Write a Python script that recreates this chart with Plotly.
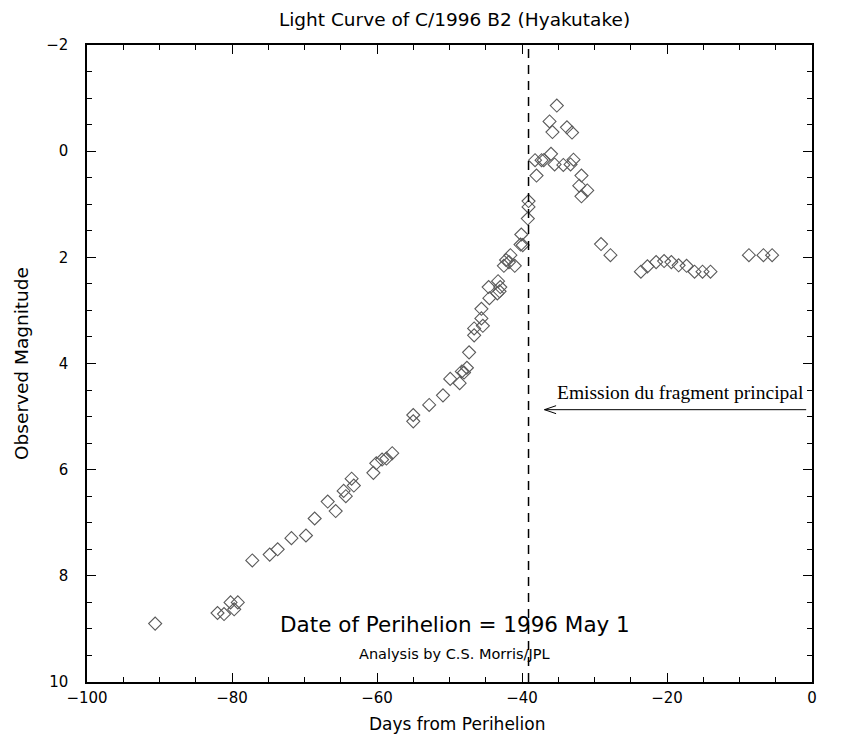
import plotly.graph_objects as go

# Days from perihelion and observed magnitude
days = [-90.6, -82.0, -81.1, -80.2, -79.7, -79.2, -77.2, -74.8, -73.7, -71.8,
        -69.8, -68.6, -66.8, -65.7, -64.6, -64.3, -63.5, -63.2, -60.5, -60.1,
        -59.3, -58.7, -57.9, -55.0, -55.0, -52.8, -50.9, -49.9, -48.6, -48.3,
        -48.0, -47.6, -47.3, -46.6, -46.6, -45.4, -45.6, -45.6, -44.5, -43.4,
        -44.6, -43.0, -43.1, -43.3, -42.5, -41.0, -41.8, -42.2, -41.6, -39.9,
        -40.2, -40.1, -39.2, -39.1, -39.1, -38.0, -38.2, -37.3, -37.0, -36.0,
        -35.5, -34.3, -33.3, -32.9, -36.2, -35.8, -35.2, -33.8, -33.1, -31.8,
        -32.1, -31.0, -31.8, -29.1, -27.8, -23.6, -22.7, -21.5, -20.4, -19.4,
        -18.4, -17.3, -16.2, -15.1, -14.0, -8.7, -6.7, -5.5]
mags = [8.90, 8.70, 8.72, 8.50, 8.63, 8.50, 7.71, 7.60, 7.50, 7.29,
        7.24, 6.92, 6.60, 6.78, 6.40, 6.50, 6.17, 6.30, 6.06, 5.88,
        5.81, 5.79, 5.69, 4.97, 5.09, 4.78, 4.60, 4.29, 4.37, 4.15,
        4.17, 4.08, 3.79, 3.34, 3.47, 3.29, 3.15, 2.97, 2.77, 2.68,
        2.56, 2.56, 2.64, 2.45, 2.16, 2.16, 2.09, 2.05, 1.96, 1.77,
        1.76, 1.57, 1.27, 1.05, 0.94, 0.46, 0.17, 0.17, 0.17, 0.05,
        0.25, 0.26, 0.25, 0.16, -0.56, -0.36, -0.86, -0.45, -0.35, 0.46,
        0.65, 0.74, 0.85, 1.75, 1.96, 2.27, 2.17, 2.09, 2.07, 2.09,
        2.15, 2.16, 2.27, 2.27, 2.27, 1.96, 1.96, 1.96]

x_ticks = [-100, -80, -60, -40, -20, 0]
x_tick_text = ["\u2212100", "\u221280", "\u221260", "\u221240", "\u221220", "0"]
y_ticks = [-2, 0, 2, 4, 6, 8, 10]
y_tick_text = ["\u22122", "0", "2", "4", "6", "8", "10"]
fragment_day = -39.1
arrow_start_day = -0.8
arrow_head_day = -36.9
arrow_mag = 4.87

FONT = "DejaVu Sans"

fig = go.Figure()
fig.add_trace(go.Scatter(
    x=days, y=mags, mode="markers",
    marker=dict(symbol="diamond-open", size=10, color="#5a5a5a",
                line=dict(width=1.1, color="#5a5a5a")),
    showlegend=False, hoverinfo="x+y"))

axis_common = dict(
    showline=True, linecolor="black", linewidth=1.5, mirror="allticks",
    ticks="inside", ticklen=9, tickwidth=1.2, tickcolor="black",
    showgrid=False, zeroline=False,
    tickfont=dict(family=FONT, size=15, color="black"),
)

fig.update_xaxes(
    range=[-100, 0], tickvals=x_ticks, ticktext=x_tick_text,
    minor=dict(ticks="inside", ticklen=5, tickwidth=1, tickcolor="black", dtick=5, tick0=0, showgrid=False),
    ticklabelstandoff=1,
    **axis_common)
fig.update_yaxes(
    range=[10, -2], tickvals=y_ticks, ticktext=y_tick_text,
    minor=dict(ticks="inside", ticklen=5, tickwidth=1, tickcolor="black", dtick=0.5, tick0=0, showgrid=False),
    title=dict(text="Observed Magnitude", font=dict(family=FONT, size=18.5, color="black"), standoff=13),
    ticklabelstandoff=14,
    **axis_common)

# x-axis title (placed as text so it sits where the reference has it)
fig.add_annotation(x=0.51, y=-0.066, xref="paper", yref="paper",
                   text="Days from Perihelion", showarrow=False, yanchor="middle",
                   font=dict(family=FONT, size=17, color="black"))

# dashed vertical line marking the fragment emission
fig.add_shape(type="line", xref="x", yref="paper", x0=fragment_day, x1=fragment_day, y0=0, y1=1,
              line=dict(color="black", width=1.5, dash="9px,7px"))

# arrow line with open head
fig.add_shape(type="line", xref="x", yref="y", x0=arrow_head_day, y0=arrow_mag,
              x1=arrow_start_day, y1=arrow_mag, line=dict(color="black", width=1))
fig.add_shape(type="line", xref="x", yref="y", x0=arrow_head_day, y0=arrow_mag,
              x1=arrow_head_day + 1.6, y1=arrow_mag - 0.075, line=dict(color="black", width=1))
fig.add_shape(type="line", xref="x", yref="y", x0=arrow_head_day, y0=arrow_mag,
              x1=arrow_head_day + 1.6, y1=arrow_mag + 0.075, line=dict(color="black", width=1))
fig.add_annotation(x=arrow_start_day, y=arrow_mag - 0.09, xref="x", yref="y",
                   text="Emission du fragment principal", showarrow=False,
                   xanchor="right", yanchor="bottom",
                   font=dict(family="Liberation Serif", size=19.5, color="black"))

fig.add_annotation(x=0.507, y=8.91, xref="paper", yref="y",
                   text="Date of Perihelion = 1996 May 1", showarrow=False,
                   font=dict(family=FONT, size=21.5, color="black"))
fig.add_annotation(x=0.507, y=9.47, xref="paper", yref="y",
                   text="Analysis by C.S. Morris/JPL", showarrow=False,
                   font=dict(family=FONT, size=14.5, color="black"))

fig.update_layout(
    width=845, height=738,
    margin=dict(l=79, r=41, t=37, b=64),
    paper_bgcolor="white", plot_bgcolor="white",
    title=dict(text="Light Curve of C/1996 B2 (Hyakutake)", x=0.5284, xref="container", xanchor="center",
               y=0.985, yanchor="middle",
               font=dict(family=FONT, size=18.5, color="black")),
)

fig.write_html("out.html")
